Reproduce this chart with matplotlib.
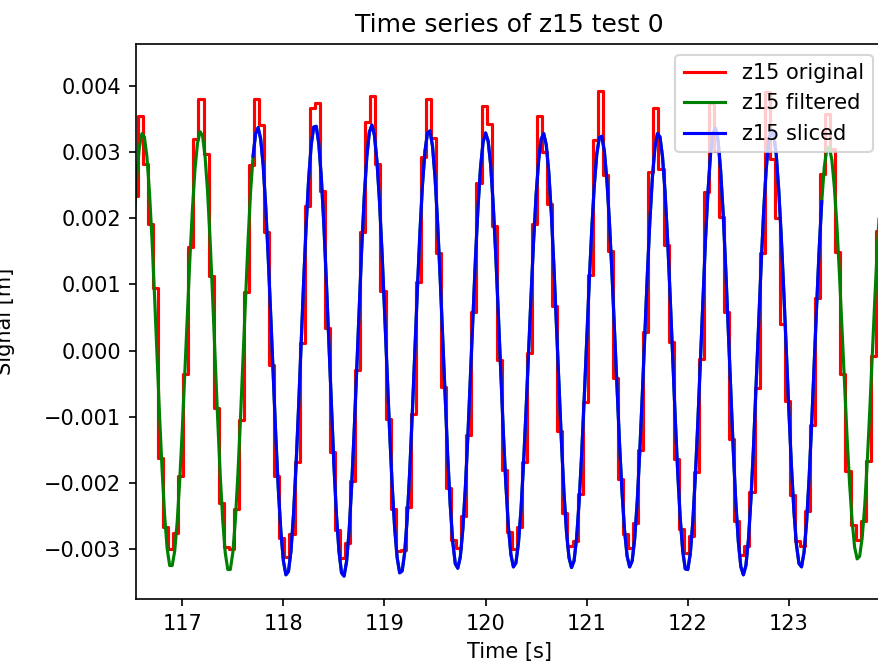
import numpy as np
import matplotlib
matplotlib.use("Agg")
import matplotlib.pyplot as plt

# --- data (signal values in units of 1e-5 m) ---

# z15 original: sample-and-hold record, one value every 0.05 s
orig_t0 = 116.46
orig_dt = 0.05
z15_original = [
    38, 233, 354, 282, 192, 94, -162, -266, -300, -276,
    -189, -36, 157, 320, 380, 297, 112, -87, -230, -297,
    -300, -239, -105, 88, 280, 381, 341, 180, -22, -189,
    -284, -312, -277, -169, 12, 219, 366, 375, 241, 34,
    -154, -271, -314, -291, -197, -29, 180, 345, 385, 282,
    90, -104, -240, -303, -302, -237, -96, 104, 293, 381,
    322, 147, -55, -208, -287, -299, -250, -128, 59, 254,
    369, 342, 188, -14, -181, -274, -300, -267, -169, -4,
    191, 354, 300, 222, 67, -121, -245, -296, -288, -217,
    -77, 115, 318, 392, 265, 151, -42, -194, -277, -298,
    -260, -151, 28, 270, 367, 275, 160, 13, -164, -270,
    -306, -280, -183, -13, 239, 374, 302, 202, 59, -133,
    -258, -309, -295, -214, -57, 147, 391, 290, 200, 40,
    -76, -218, -288, -296, -242, -113, 79, 267, 357, 304,
    149, -36, -182, -264, -287, -258, -167, -8, 181, 320,
]

# z15 filtered: one value every 0.025 s
filt_t0 = 116.45
filt_dt = 0.025
z15_filtered = [
    -55, 35, 122, 201, 264, 307, 328, 323, 293, 240,
    169, 84, -7, -98, -180, -249, -299, -325, -325, -303,
    -258, -195, -119, -33, 55, 139, 213, 273, 313, 331,
    325, 294, 240, 167, 80, -12, -104, -188, -257, -306,
    -331, -331, -305, -256, -187, -104, -13, 79, 165, 239,
    294, 328, 337, 320, 280, 218, 140, 52, -40, -130,
    -210, -274, -318, -339, -334, -303, -248, -174, -86, 9,
    103, 189, 260, 311, 338, 339, 313, 262, 191, 104,
    10, -86, -174, -249, -304, -336, -341, -319, -273, -205,
    -122, -29, 66, 156, 233, 293, 330, 341, 326, 287,
    227, 150, 62, -30, -120, -201, -267, -313, -336, -333,
    -305, -253, -181, -95, -2, 91, 177, 249, 301, 329,
    332, 309, 262, 194, 112, 21, -72, -159, -233, -289,
    -322, -329, -312, -270, -207, -128, -39, 53, 140, 217,
    277, 315, 329, 317, 281, 222, 146, 59, -33, -122,
    -201, -265, -308, -327, -321, -291, -241, -172, -91, -4,
    84, 166, 236, 288, 320, 328, 311, 270, 208, 130,
    42, -49, -137, -214, -274, -313, -328, -318, -284, -229,
    -157, -74, 15, 103, 183, 249, 297, 322, 324, 301,
    257, 194, 117, 31, -57, -141, -215, -273, -311, -327,
    -318, -284, -228, -153, -67, 25, 115, 196, 262, 307,
    328, 323, 293, 240, 169, 84, -8, -99, -183, -253,
    -303, -330, -331, -307, -258, -190, -106, -14, 80, 167,
    241, 297, 329, 336, 317, 272, 207, 125, 33, -61,
    -151, -229, -289, -327, -339, -325, -286, -224, -146, -56,
    37, 128, 209, 273, 316, 334, 327, 296, 242, 171,
    88, -2, -91, -174, -243, -294, -322, -327, -305, -260,
    -193, -112, -22, 69, 154, 225, 277, 305, 308, 288,
    247, 189, 116, 35, -48, -129, -200, -257, -297, -315,
    -311, -283, -235, -169, -91, -6, 78, 156, 221, 269,
    295,
]

# window kept for the sliced series
slice_start = 117.69
slice_end = 123.33

# --- arrays ---

t_orig = orig_t0 + orig_dt * np.arange(len(z15_original))
z_orig = np.array(z15_original) * 1e-5
t_filt = filt_t0 + filt_dt * np.arange(len(z15_filtered))
z_filt = np.array(z15_filtered) * 1e-5

in_slice = (t_filt >= slice_start) & (t_filt <= slice_end)
t_slice = t_filt[in_slice]
z_slice = z_filt[in_slice]

# --- plot ---

fig = plt.figure(figsize=(878 / 150, 670 / 150), dpi=150)
ax = fig.add_axes([136 / 878, 70.7 / 670, 747 / 878, 555 / 670])

ax.plot(t_orig, z_orig, "r", drawstyle="steps-post", label="z15 original")
ax.plot(t_filt, z_filt, "g", label="z15 filtered")
ax.plot(t_slice, z_slice, "b", label="z15 sliced")

ax.set_xlim(116.542, 123.931)
ax.set_ylim(-0.00376, 0.00463)
ax.set_title("Time series of z15 test 0")
ax.set_xlabel("Time [s]")
ax.set_ylabel("Signal [m]", labelpad=14)
ax.legend(loc="upper right")

fig.savefig("out.png", dpi=150)
